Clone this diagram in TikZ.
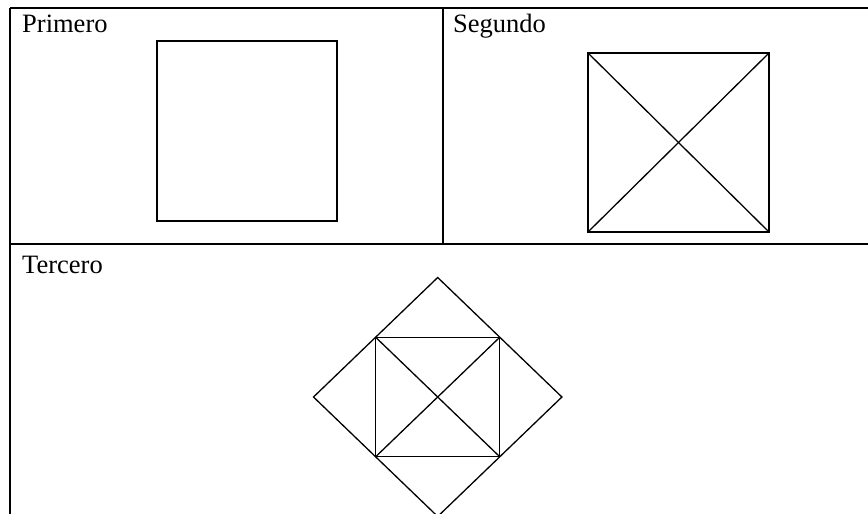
\documentclass[tikz,border=0pt]{standalone}
\usepackage{fontspec}
\setmainfont{Liberation Serif}
\begin{document}
\begin{tikzpicture}[x=1pt,y=-1pt,
  grid/.style={line width=1.6pt,black},
  figline/.style={line width=1.3pt,black,line join=miter},
  lbl/.style={anchor=base west,inner sep=0pt,font=\fontsize{26.5}{30}\selectfont}]
\useasboundingbox (0,0) rectangle (868,514);
% table rules
\draw[grid] (10,8) -- (868,8);
\draw[grid] (10,8) -- (10,514);
\draw[grid] (443,8) -- (443,244);
\draw[grid] (10,244) -- (868,244);
% labels
\node[lbl] (p1) at (22,32) {Primero};
\node[lbl] (p2) at (453,32) {Segundo};
\node[lbl] (p3) at (22,273) {Tercero};
% first square
\draw[figline] (157,41) rectangle (337,221);
% second square with diagonals
\coordinate (a1) at (588,53);
\coordinate (a2) at (769,53);
\coordinate (a3) at (769,232);
\coordinate (a4) at (588,232);
\draw[figline] (a1) -- (a2) -- (a3) -- (a4) -- cycle;
\draw[figline] (a1) -- (a3);
\draw[figline] (a2) -- (a4);
% diamond with inner square
\begin{scope}
\clip (0,244) rectangle (868,514);
\coordinate (dt) at (437.7,277.5);
\coordinate (dl) at (313.5,397);
\coordinate (dr) at (561.9,397);
\coordinate (db) at (437.7,516.5);
\draw[figline] (dt) -- (dr) -- (db) -- (dl) -- cycle;
\end{scope}
\coordinate (s1) at (375.6,337.2);
\coordinate (s2) at (499.8,337.2);
\coordinate (s3) at (499.8,456.8);
\coordinate (s4) at (375.6,456.8);
\draw[figline] (s1) -- (s2) -- (s3) -- (s4) -- cycle;
\draw[figline] (s1) -- (s3);
\draw[figline] (s2) -- (s4);
\end{tikzpicture}
\end{document}
